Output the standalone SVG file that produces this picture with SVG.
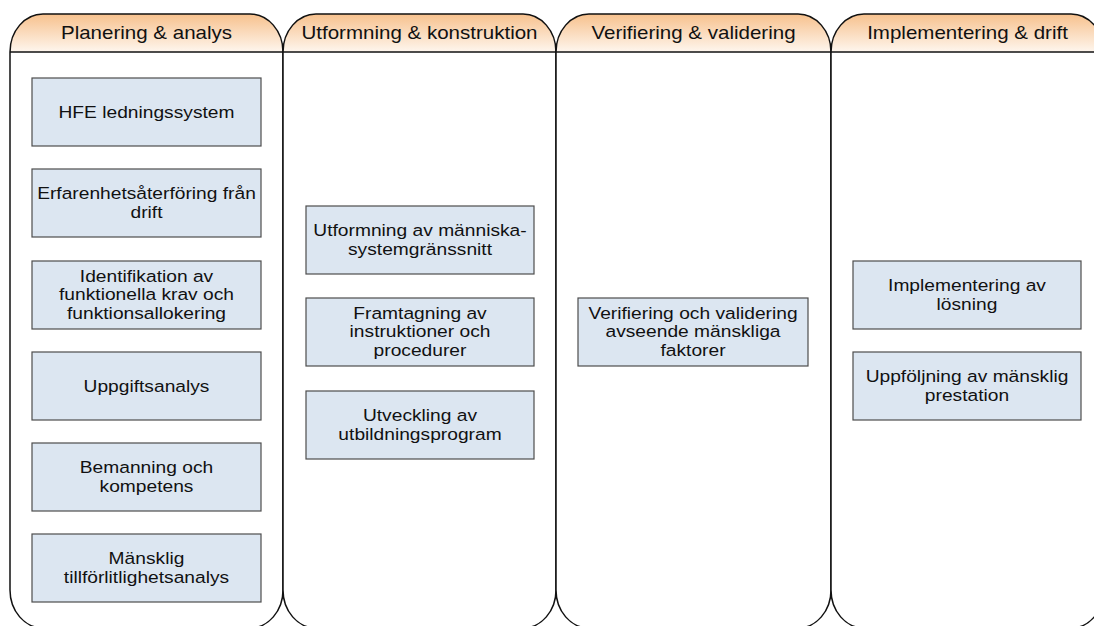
<svg xmlns="http://www.w3.org/2000/svg" width="1094" height="626" viewBox="0 0 1094 626">
  <defs>
    <linearGradient id="hdrFill" x1="0" y1="0" x2="0" y2="1">
      <stop offset="0" stop-color="#F7C18D"/>
      <stop offset="1" stop-color="#FEF6EE"/>
    </linearGradient>
    <style>
      .lane { fill: #FFFFFF; stroke: none; }
      .lane-edge { fill: none; stroke: #111111; stroke-width: 1.5; }
      .hdr { fill: url(#hdrFill); stroke: none; }
      .hdr-line { stroke: #111111; stroke-width: 1.5; }
      .ht { font-family: "Liberation Sans", Arial, sans-serif; font-size: 18px; fill: #111111; text-anchor: middle; }
      .box { fill: #DCE6F1; stroke: #4D4D4D; stroke-width: 1.2; }
      .bt { font-family: "Liberation Sans", Arial, sans-serif; font-size: 17px; fill: #111111; text-anchor: middle; }
    </style>
  </defs>

  <rect width="1094" height="626" fill="#FFFFFF"/>

  <!-- swimlanes -->
  <g id="lane-planering">
    <rect class="lane" x="10" y="14" width="273" height="614" rx="33" ry="38"/>
    <path class="hdr" d="M10,52 A33,38 0 0 1 43,14 H250 A33,38 0 0 1 283,52 Z"/>
    <line class="hdr-line" x1="10" y1="52" x2="283" y2="52"/>
    <rect class="lane-edge" x="10" y="14" width="273" height="614" rx="33" ry="38"/>
    <text class="ht" transform="translate(146.5 0) scale(1.14 1)" x="0" y="39.5">Planering &amp; analys</text>
  </g>
  <g id="lane-utformning">
    <rect class="lane" x="283" y="14" width="273" height="614" rx="33" ry="38"/>
    <path class="hdr" d="M283,52 A33,38 0 0 1 316,14 H523 A33,38 0 0 1 556,52 Z"/>
    <line class="hdr-line" x1="283" y1="52" x2="556" y2="52"/>
    <rect class="lane-edge" x="283" y="14" width="273" height="614" rx="33" ry="38"/>
    <text class="ht" transform="translate(419.5 0) scale(1.14 1)" x="0" y="39.5">Utformning &amp; konstruktion</text>
  </g>
  <g id="lane-verifiering">
    <rect class="lane" x="556" y="14" width="275" height="614" rx="33" ry="38"/>
    <path class="hdr" d="M556,52 A33,38 0 0 1 589,14 H798 A33,38 0 0 1 831,52 Z"/>
    <line class="hdr-line" x1="556" y1="52" x2="831" y2="52"/>
    <rect class="lane-edge" x="556" y="14" width="275" height="614" rx="33" ry="38"/>
    <text class="ht" transform="translate(693.5 0) scale(1.14 1)" x="0" y="39.5">Verifiering &amp; validering</text>
  </g>
  <g id="lane-implementering">
    <rect class="lane" x="831" y="14" width="273" height="614" rx="33" ry="38"/>
    <path class="hdr" d="M831,52 A33,38 0 0 1 864,14 H1071 A33,38 0 0 1 1104,52 Z"/>
    <line class="hdr-line" x1="831" y1="52" x2="1104" y2="52"/>
    <rect class="lane-edge" x="831" y="14" width="273" height="614" rx="33" ry="38"/>
    <text class="ht" transform="translate(967.5 0) scale(1.14 1)" x="0" y="39.5">Implementering &amp; drift</text>
  </g>

  <!-- activities: Planering & analys -->
  <g id="hfe-ledningssystem">
    <rect class="box" x="32" y="78" width="229" height="68"/>
    <text class="bt" transform="translate(146.5 0) scale(1.13 1)"><tspan x="0" y="118">HFE ledningssystem</tspan></text>
  </g>
  <g id="erfarenhetsaterforing">
    <rect class="box" x="32" y="169" width="229" height="68"/>
    <text class="bt" transform="translate(146.5 0) scale(1.13 1)"><tspan x="0" y="199">Erfarenhetsåterföring från</tspan><tspan x="0" y="218.5">drift</tspan></text>
  </g>
  <g id="identifikation">
    <rect class="box" x="32" y="261" width="229" height="68"/>
    <text class="bt" transform="translate(146.5 0) scale(1.13 1)"><tspan x="0" y="282">Identifikation av</tspan><tspan x="0" y="300.5">funktionella krav och</tspan><tspan x="0" y="319">funktionsallokering</tspan></text>
  </g>
  <g id="uppgiftsanalys">
    <rect class="box" x="32" y="352" width="229" height="68"/>
    <text class="bt" transform="translate(146.5 0) scale(1.13 1)"><tspan x="0" y="392">Uppgiftsanalys</tspan></text>
  </g>
  <g id="bemanning">
    <rect class="box" x="32" y="443" width="229" height="68"/>
    <text class="bt" transform="translate(146.5 0) scale(1.13 1)"><tspan x="0" y="473">Bemanning och</tspan><tspan x="0" y="492.5">kompetens</tspan></text>
  </g>
  <g id="tillforlitlighetsanalys">
    <rect class="box" x="32" y="534" width="229" height="68"/>
    <text class="bt" transform="translate(146.5 0) scale(1.13 1)"><tspan x="0" y="564">Mänsklig</tspan><tspan x="0" y="583.5">tillförlitlighetsanalys</tspan></text>
  </g>

  <!-- activities: Utformning & konstruktion -->
  <g id="granssnitt">
    <rect class="box" x="306" y="206" width="228" height="68"/>
    <text class="bt" transform="translate(420 0) scale(1.13 1)"><tspan x="0" y="236">Utformning av människa-</tspan><tspan x="0" y="255.5">systemgränssnitt</tspan></text>
  </g>
  <g id="instruktioner">
    <rect class="box" x="306" y="298" width="228" height="68"/>
    <text class="bt" transform="translate(420 0) scale(1.13 1)"><tspan x="0" y="319">Framtagning av</tspan><tspan x="0" y="337.5">instruktioner och</tspan><tspan x="0" y="356">procedurer</tspan></text>
  </g>
  <g id="utbildning">
    <rect class="box" x="306" y="391" width="228" height="68"/>
    <text class="bt" transform="translate(420 0) scale(1.13 1)"><tspan x="0" y="421">Utveckling av</tspan><tspan x="0" y="440.5">utbildningsprogram</tspan></text>
  </g>

  <!-- activities: Verifiering & validering -->
  <g id="verifiering">
    <rect class="box" x="578" y="298" width="230" height="68"/>
    <text class="bt" transform="translate(693 0) scale(1.13 1)"><tspan x="0" y="319">Verifiering och validering</tspan><tspan x="0" y="337.5">avseende mänskliga</tspan><tspan x="0" y="356">faktorer</tspan></text>
  </g>

  <!-- activities: Implementering & drift -->
  <g id="implementering">
    <rect class="box" x="853" y="261" width="228" height="68"/>
    <text class="bt" transform="translate(967 0) scale(1.13 1)"><tspan x="0" y="291">Implementering av</tspan><tspan x="0" y="310.5">lösning</tspan></text>
  </g>
  <g id="uppfoljning">
    <rect class="box" x="853" y="352" width="228" height="68"/>
    <text class="bt" transform="translate(967 0) scale(1.13 1)"><tspan x="0" y="382">Uppföljning av mänsklig</tspan><tspan x="0" y="401.5">prestation</tspan></text>
  </g>
</svg>
